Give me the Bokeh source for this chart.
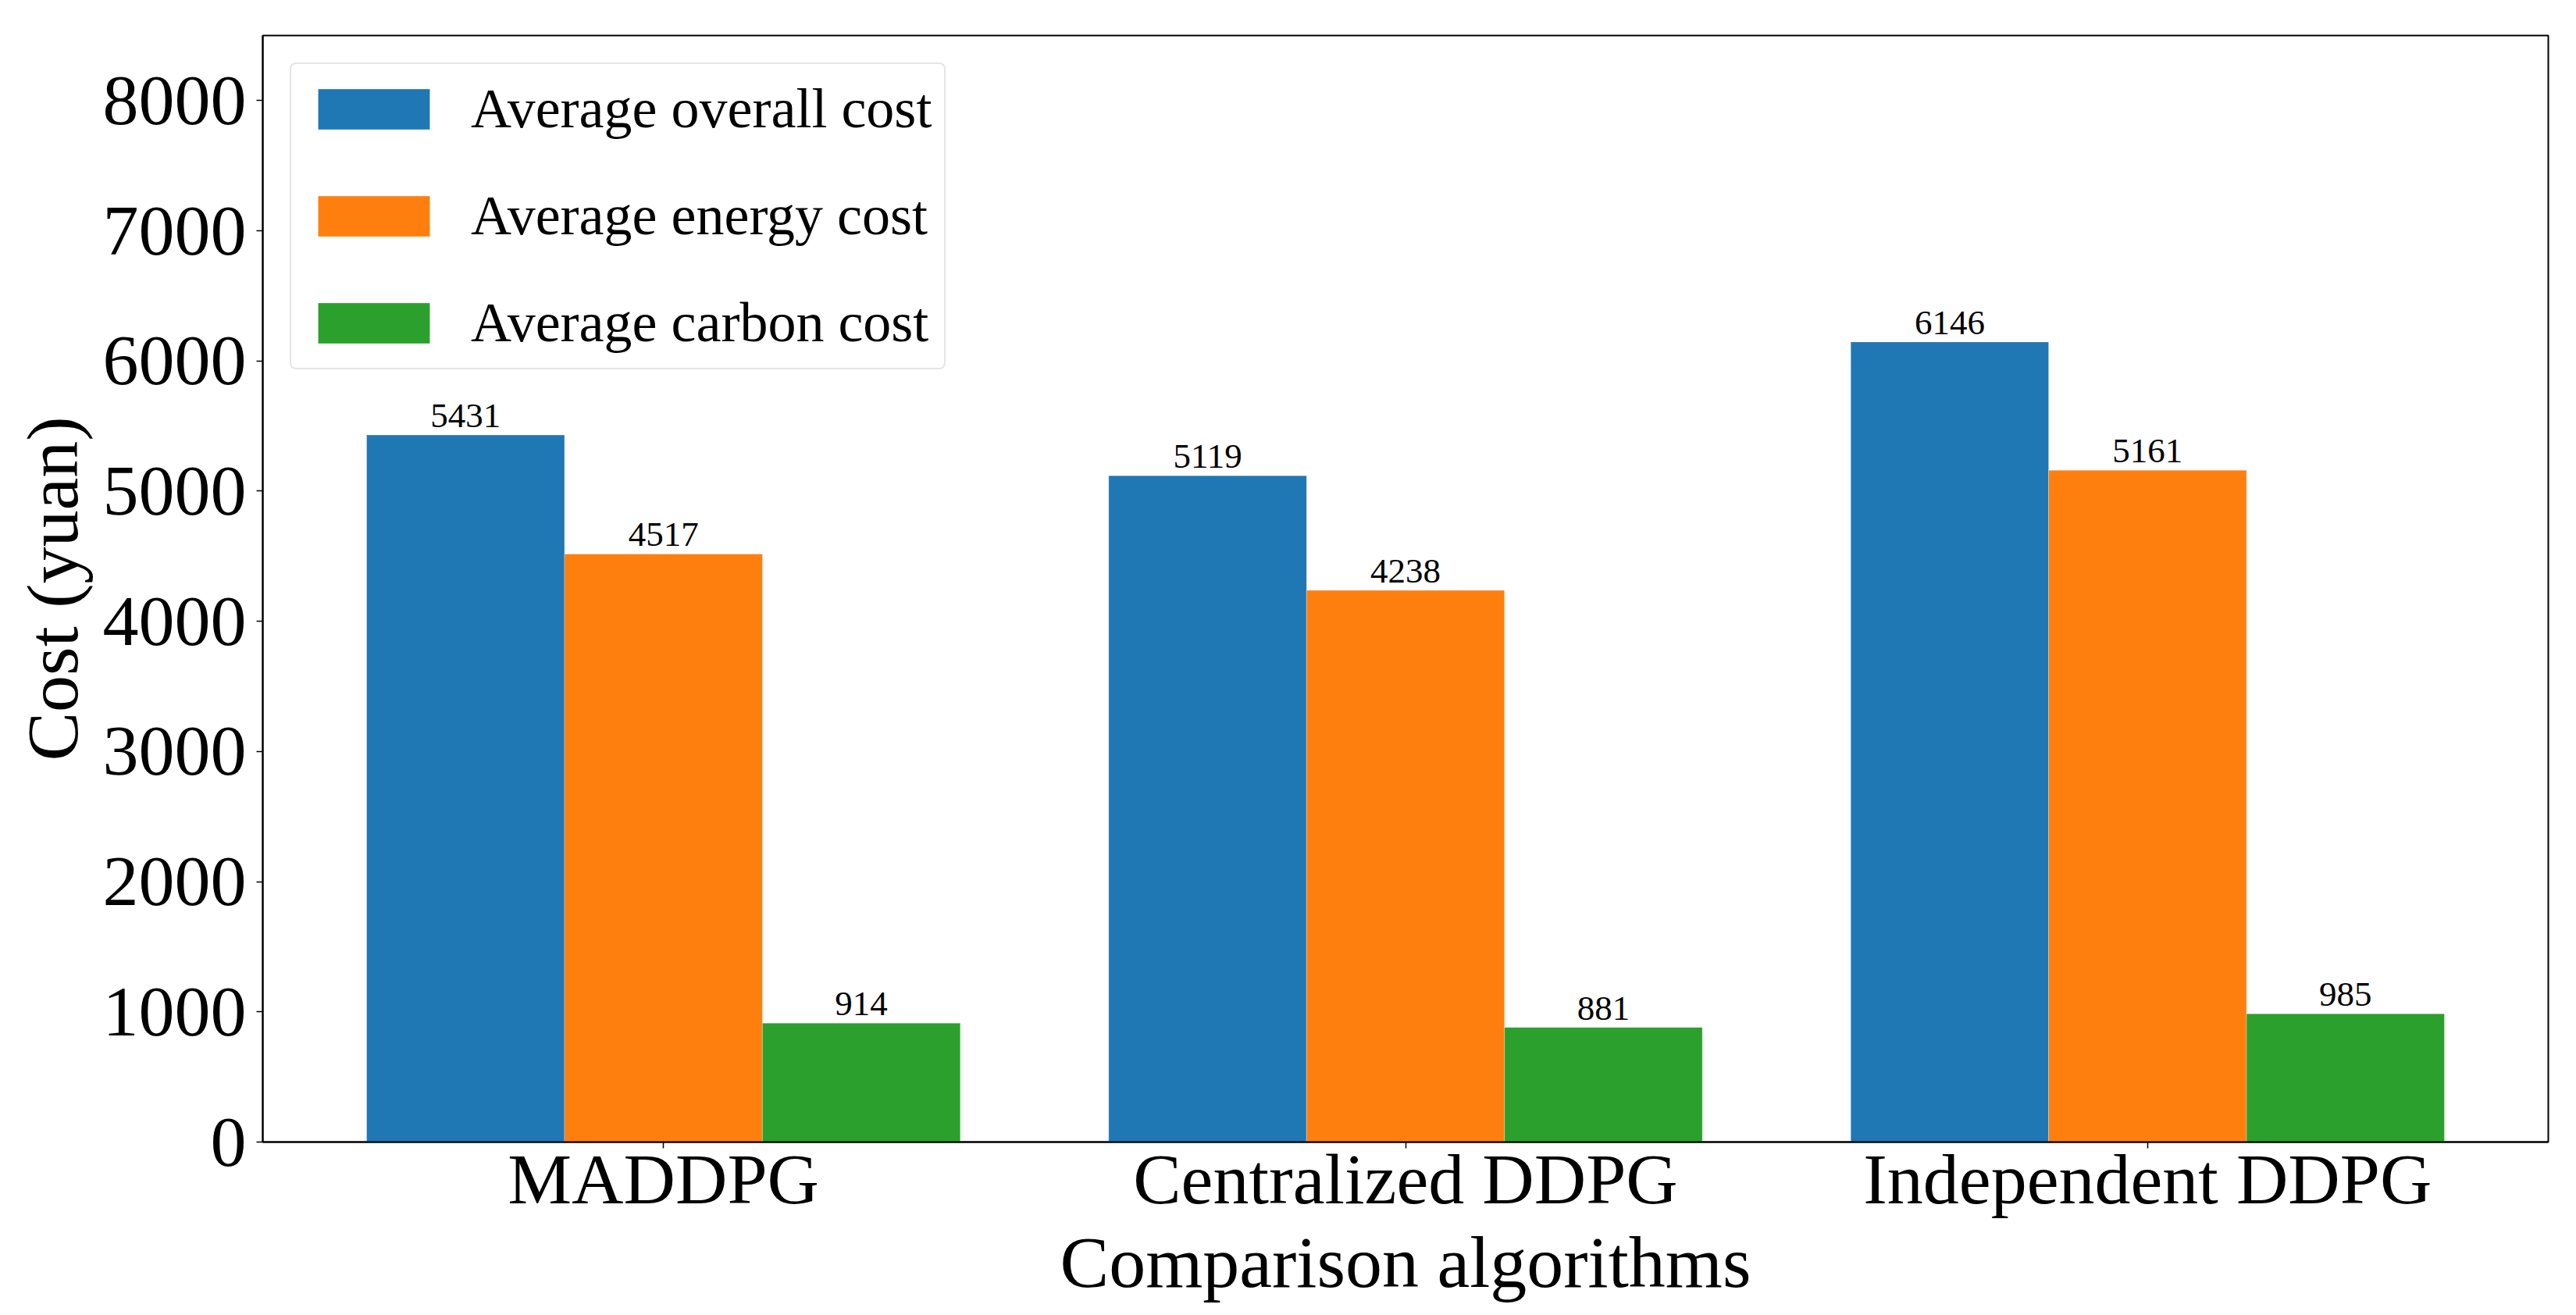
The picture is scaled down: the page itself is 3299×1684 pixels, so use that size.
from bokeh.plotting import figure
from bokeh.models import (Range1d, FixedTicker, ColumnDataSource, LabelSet,
                          Legend, LegendItem)
from bokeh.transform import dodge
from bokeh.embed import file_html
from bokeh.resources import INLINE

# ---- data ----
categories = ["MADDPG", "Centralized DDPG", "Independent DDPG"]
overall_cost = [5431, 5119, 6146]
energy_cost = [4517, 4238, 5161]
carbon_cost = [914, 881, 985]
series_names = ["Average overall cost", "Average energy cost", "Average carbon cost"]
y_ticks = [0, 1000, 2000, 3000, 4000, 5000, 6000, 7000, 8000]

colors = ["#1f77b4", "#ff7f0e", "#2ca02c"]
FONT = "Liberation Serif"
bw = 0.8 / 3

xs = list(range(len(categories)))
src = ColumnDataSource(dict(
    x=xs,
    overall=overall_cost, energy=energy_cost, carbon=carbon_cost,
    lab_overall=[str(v) for v in overall_cost],
    lab_energy=[str(v) for v in energy_cost],
    lab_carbon=[str(v) for v in carbon_cost],
))

p = figure(width=3299, height=1684,
           x_range=Range1d(-0.54, 2.54), y_range=Range1d(0, 8500),
           output_backend="svg", toolbar_location=None,
           min_border_left=336, min_border_right=36,
           min_border_top=45, min_border_bottom=222)

renderers = []
for i, (col, lab) in enumerate([("overall", "lab_overall"),
                                 ("energy", "lab_energy"),
                                 ("carbon", "lab_carbon")]):
    off = (i - 1) * bw
    r = p.vbar(x=dodge("x", off, range=p.x_range), top=col, width=bw,
               source=src, fill_color=colors[i], line_color="white",
               line_width=0.6, line_alpha=0.5)
    renderers.append(r)
    labels = LabelSet(x=dodge("x", off, range=p.x_range), y=col, text=lab,
                      source=src, text_align="center",
                      text_baseline="alphabetic", y_offset=10,
                      text_font=FONT, text_font_size="45px",
                      text_color="black")
    p.add_layout(labels)

legend = Legend(items=[LegendItem(label=series_names[i], renderers=[renderers[i]])
                       for i in range(3)],
                location="top_left", margin=35, padding=16,
                spacing=54, glyph_width=179, glyph_height=65,
                label_standoff=35,
                label_text_font=FONT, label_text_font_size="72px",
                label_text_baseline="middle", label_text_color="black",
                border_line_color="#cccccc", border_line_width=2.5,
                background_fill_color="white", background_fill_alpha=0.8)
if "border_radius" in Legend.properties():
    legend.border_radius = 8
p.add_layout(legend)

p.xgrid.visible = False
p.ygrid.visible = False

p.xaxis.ticker = FixedTicker(ticks=xs)
p.xaxis.major_label_overrides = {i: c for i, c in enumerate(categories)}
p.yaxis.ticker = FixedTicker(ticks=y_ticks)

p.xaxis.axis_label = "Comparison algorithms"
p.yaxis.axis_label = "Cost (yuan)"

for ax in (p.xaxis, p.yaxis):
    ax.axis_label_text_font = FONT
    ax.axis_label_text_font_style = "normal"
    ax.axis_label_text_font_size = "94px"
    ax.axis_label_text_color = "black"
    ax.major_label_text_font = FONT
    ax.major_label_text_font_size = "92px"
    ax.major_label_text_color = "black"
    ax.axis_line_color = "black"
    ax.axis_line_width = 2
    ax.major_tick_line_color = "black"
    ax.major_tick_line_width = 1.5
    ax.major_tick_out = 8
    ax.major_tick_in = 0
    ax.minor_tick_line_color = None

p.xaxis.major_label_standoff = -12
p.xaxis.axis_label_standoff = 0
p.yaxis.major_label_standoff = 13
p.yaxis.axis_label_standoff = 10

p.outline_line_color = "black"
p.outline_line_width = 2
p.outline_line_alpha = 1
p.background_fill_color = "white"
p.border_fill_color = "white"

open("out.html", "w").write(file_html(p, INLINE))
